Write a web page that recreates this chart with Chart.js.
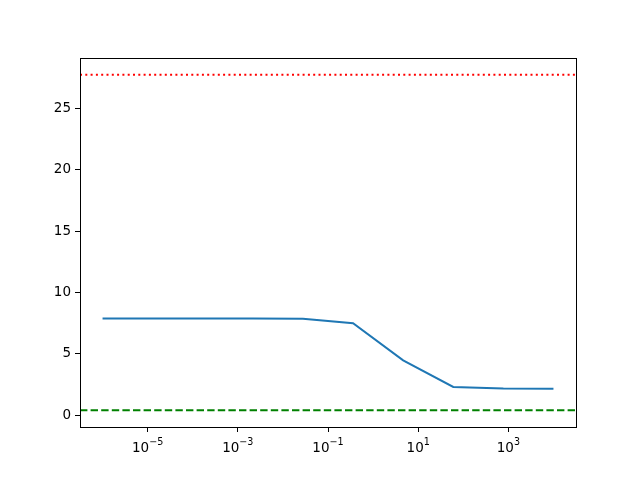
<!DOCTYPE html>
<html>
<head>
<meta charset="utf-8">
<script src="https://cdn.jsdelivr.net/npm/chart.js@4"></script>
<style>
  html, body { margin: 0; padding: 0; background: #fff; }
  #wrap { width: 640px; height: 480px; }
</style>
</head>
<body>
<div id="wrap"><canvas id="chart" width="640" height="480"></canvas></div>
<script>
// x positions (log spaced, 1e-6 .. 1e4) and the curve
const xExponents = [-6, -4.889, -3.778, -2.667, -1.556, -0.444, 0.667, 1.778, 2.889, 4];
const curveValues = [7.88, 7.88, 7.88, 7.88, 7.86, 7.50, 4.48, 2.31, 2.18, 2.16];
const upperLevel = 27.72;
const lowerLevel = 0.42;
const xTickExponents = [-5, -3, -1, 1, 3];
const yTickValues = [0, 5, 10, 15, 20, 25];

const xMin = Math.pow(10, -6.5);
const xMax = Math.pow(10, 4.5);
const span = upperLevel - lowerLevel;
const yMin = lowerLevel - 0.05 * span;
const yMax = upperLevel + 0.05 * span;

const curve = xExponents.map((e, i) => ({ x: Math.pow(10, e), y: curveValues[i] }));

// box around the plot area, like matplotlib's spines
const frame = {
    id: 'frame',
    afterDraw(chart) {
        const a = chart.chartArea;
        const ctx = chart.ctx;
        ctx.save();
        ctx.strokeStyle = '#000';
        ctx.lineWidth = 1;
        ctx.strokeRect(Math.round(a.left) + 0.5, Math.round(a.top) + 0.5,
                       Math.round(a.right - a.left), Math.round(a.bottom - a.top));
        ctx.restore();
    }
};

// "10" with a raised, smaller exponent under each x tick
const powerLabels = {
    id: 'powerLabels',
    afterDraw(chart) {
        const scale = chart.scales.x;
        const ctx = chart.ctx;
        const baseFont = '13.5px "DejaVu Sans"';
        const expFont = '9.6px "DejaVu Sans"';
        ctx.save();
        ctx.fillStyle = '#000';
        ctx.textBaseline = 'alphabetic';
        ctx.textAlign = 'left';
        xTickExponents.forEach(e => {
            const px = scale.getPixelForValue(Math.pow(10, e));
            const exp = String(e).replace('-', '\u2212');
            ctx.font = baseFont;
            const wBase = ctx.measureText('10').width;
            ctx.font = expFont;
            const wExp = ctx.measureText(exp).width;
            const start = px - (wBase + wExp) / 2;
            ctx.font = baseFont;
            ctx.fillText('10', start, 452);
            ctx.font = expFont;
            ctx.fillText(exp, start + wBase, 445);
        });
        ctx.restore();
    }
};

const font = { family: 'DejaVu Sans', size: 13.5 };

new Chart(document.getElementById('chart'), {
    type: 'line',
    data: {
        datasets: [
            {
                data: curve,
                borderColor: '#1f77b4',
                borderWidth: 2,
                pointRadius: 0,
                tension: 0
            },
            {
                data: [{ x: xMin, y: upperLevel }, { x: xMax, y: upperLevel }],
                borderColor: '#ff0000',
                borderWidth: 2,
                borderDash: [2, 3.3],
                pointRadius: 0
            },
            {
                data: [{ x: xMin, y: lowerLevel }, { x: xMax, y: lowerLevel }],
                borderColor: '#008000',
                borderWidth: 2,
                borderDash: [7.4, 3.2],
                pointRadius: 0
            }
        ]
    },
    options: {
        responsive: false,
        animation: false,
        devicePixelRatio: 1,
        layout: { padding: { top: 58, right: 64, left: 0, bottom: 0 } },
        plugins: { legend: { display: false }, tooltip: { enabled: false } },
        scales: {
            x: {
                type: 'logarithmic',
                min: xMin,
                max: xMax,
                afterBuildTicks(scale) {
                    scale.ticks = xTickExponents.map(e => ({ value: Math.pow(10, e) }));
                },
                afterFit(scale) { scale.height = 53; },
                ticks: {
                    color: '#000',
                    font: font,
                    padding: 4,
                    maxRotation: 0,
                    autoSkip: false,
                    callback: () => ''
                },
                grid: { drawOnChartArea: false, drawTicks: true, tickLength: 5, color: '#000' },
                border: { display: true, color: '#000' }
            },
            y: {
                type: 'linear',
                min: yMin,
                max: yMax,
                afterBuildTicks(scale) {
                    scale.ticks = yTickValues.map(v => ({ value: v }));
                },
                afterFit(scale) { scale.width = 80; },
                ticks: { color: '#000', font: font, padding: 4 },
                grid: { drawOnChartArea: false, drawTicks: true, tickLength: 5, color: '#000' },
                border: { display: true, color: '#000' }
            }
        }
    },
    plugins: [frame, powerLabels]
});
</script>
</body>
</html>
